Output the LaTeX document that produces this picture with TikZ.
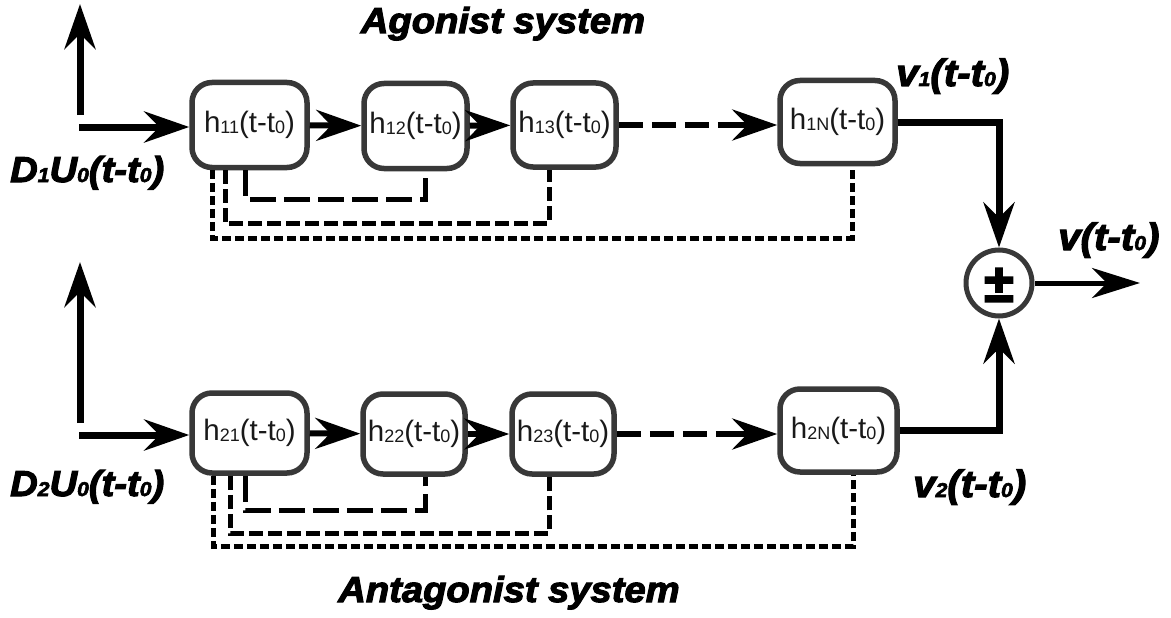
\documentclass[tikz,border=0pt]{standalone}
\usepackage{fontspec}
\setmainfont{Liberation Sans}
\newfontfamily\labfont{Liberation Sans}[BoldItalicFeatures={FakeBold=3,FakeStretch=1.06}]
\newfontfamily\heavyfont{Liberation Sans}[BoldFeatures={FakeBold=3}]
\usetikzlibrary{arrows.meta}
\newcommand\bsub[1]{\raisebox{-1pt}{\fontsize{18}{18}\selectfont #1}}
\newcommand\lsub[1]{{\fontsize{20}{20}\selectfont #1}}
\tikzset{
  Big/.tip={Stealth[length=45pt,width=31pt,inset=15pt]},
  blk/.style={draw=black!78, line width=5.5pt, rounded corners=20pt,
    inner sep=0pt, font=\fontsize{29.5}{29.5}\selectfont, text=black!90},
  mainline/.style={line width=7pt, line join=miter},
  midline/.style={line width=6pt},
  fbA/.style={line width=5pt, line join=miter, dash pattern=on 26pt off 8pt},
  fbB/.style={line width=5pt, line join=miter, dash pattern=on 14pt off 5pt},
  fbC/.style={line width=5pt, line join=miter, dash pattern=on 9pt off 4pt},
  labD/.style={font=\labfont\bfseries\itshape\fontsize{36}{36}\selectfont, inner sep=0pt},
  labV/.style={font=\labfont\bfseries\itshape\fontsize{38}{38}\selectfont, inner sep=0pt},
  ttl/.style={font=\labfont\bfseries\itshape\fontsize{36}{36}\selectfont, inner sep=0pt}
}
\begin{document}
\begin{tikzpicture}[x=1pt,y=-1pt]
\useasboundingbox (0,0) rectangle (1171,618);
% titles
\node[ttl, anchor=base] (t1) at (503,33) {Agonist system};
\node[ttl, anchor=base] (t2) at (509,602) {Antagonist system};
% top row blocks
\node[blk, minimum width=115pt, minimum height=85pt] (h11) at (249.5,125) {h\bsub{11}(t-t\bsub{0})};
\node[blk, minimum width=103pt, minimum height=85pt] (h12) at (415.5,126) {h\bsub{12}(t-t\bsub{0})};
\node[blk, minimum width=103pt, minimum height=84pt] (h13) at (564.5,125) {h\bsub{13}(t-t\bsub{0})};
\node[blk, minimum width=115pt, minimum height=83pt] (h1N) at (837.5,122) {h\bsub{1N}(t-t\bsub{0})};
% bottom row blocks
\node[blk, minimum width=115pt, minimum height=80pt] (h21) at (249.5,433) {h\bsub{21}(t-t\bsub{0})};
\node[blk, minimum width=102pt, minimum height=80pt] (h22) at (414,434) {h\bsub{22}(t-t\bsub{0})};
\node[blk, minimum width=102pt, minimum height=80pt] (h23) at (563,434) {h\bsub{23}(t-t\bsub{0})};
\node[blk, minimum width=117pt, minimum height=83pt] (h2N) at (838.5,430.5) {h\bsub{2N}(t-t\bsub{0})};
% summing junction
\node[circle, draw=black!78, line width=5pt, minimum size=66pt, inner sep=0pt] (sum) at (999,283) {};
\node[font=\heavyfont\bfseries\fontsize{54}{54}\selectfont, inner sep=0pt] (pm) at (999,285) {±};
% labels
\node[labD, anchor=base west] (d1) at (10,182) {D\lsub{1}U\lsub{0}(t-t\lsub{0})};
\node[labD, anchor=base west] (d2) at (10,496) {D\lsub{2}U\lsub{0}(t-t\lsub{0})};
\node[labV, anchor=base west] (v1) at (896,86) {v\lsub{1}(t-t\lsub{0})};
\node[labV, anchor=base west] (v) at (1058,250) {v(t-t\lsub{0})};
\node[labV, anchor=base west] (v2) at (913,497) {v\lsub{2}(t-t\lsub{0})};
% coordinates
\coordinate (in1) at (79,127);
\coordinate (up1b) at (80,115);
\coordinate (up1t) at (80,4);
\coordinate (in2) at (79,435);
\coordinate (up2b) at (80,423);
\coordinate (up2t) at (80,262);
\coordinate (out) at (1140,283);
\coordinate (f1) at (425,199);
\coordinate (f2) at (549,223);
\coordinate (f3) at (852,238);
\coordinate (f4) at (425,510);
\coordinate (f5) at (549,533);
\coordinate (f6) at (853,546);
% main connectors
\draw[mainline,-Big] (up1b) -- (up1t);
\draw[mainline,-Big] (in1) -- (in1 -| h11.west);
\draw[midline,-Big] (h11) -- (h12);
\draw[midline,-Big] (h12) -- (h13);
\draw[midline, dash pattern=on 24pt off 9pt] (h13.east) -- ([xshift=-30pt]h13.east -| h1N.west);
\draw[midline,-Big] ([xshift=-40pt]h13.east -| h1N.west) -- (h13.east -| h1N.west);
\draw[mainline,-Big] (h1N.east) -| (sum.north);
\draw[mainline,-Big] (up2b) -- (up2t);
\draw[mainline,-Big] (in2) -- (in2 -| h21.west);
\draw[midline,-Big] (h21) -- (h22);
\draw[midline,-Big] (h22) -- (h23);
\draw[midline, dash pattern=on 24pt off 9pt] (h23.east) -- ([xshift=-30pt]h23.east -| h2N.west);
\draw[midline,-Big] ([xshift=-40pt]h23.east -| h2N.west) -- (h23.east -| h2N.west);
\draw[mainline,-Big] (h2N.east) -| (sum.south);
\draw[line width=5pt,-{Stealth[length=48pt,width=30pt,inset=15pt]}] (sum.east) -- (out);
% feedback paths
\draw[fbA] ([xshift=-4.5pt]h11.south) |- (f1) -- (f1 |- h12.south);
\draw[fbB] ([xshift=-24.5pt]h11.south) |- (f2) -- (f2 |- h13.south);
\draw[fbC] ([xshift=-37.5pt]h11.south) |- (f3) -- (f3 |- h1N.south);
\draw[fbA] ([xshift=-4.5pt]h21.south) |- (f4) -- (f4 |- h22.south);
\draw[fbB] ([xshift=-19.5pt]h21.south) |- (f5) -- (f5 |- h23.south);
\draw[fbC] ([xshift=-36.5pt]h21.south) |- (f6) -- (f6 |- h2N.south);
\end{tikzpicture}
\end{document}
